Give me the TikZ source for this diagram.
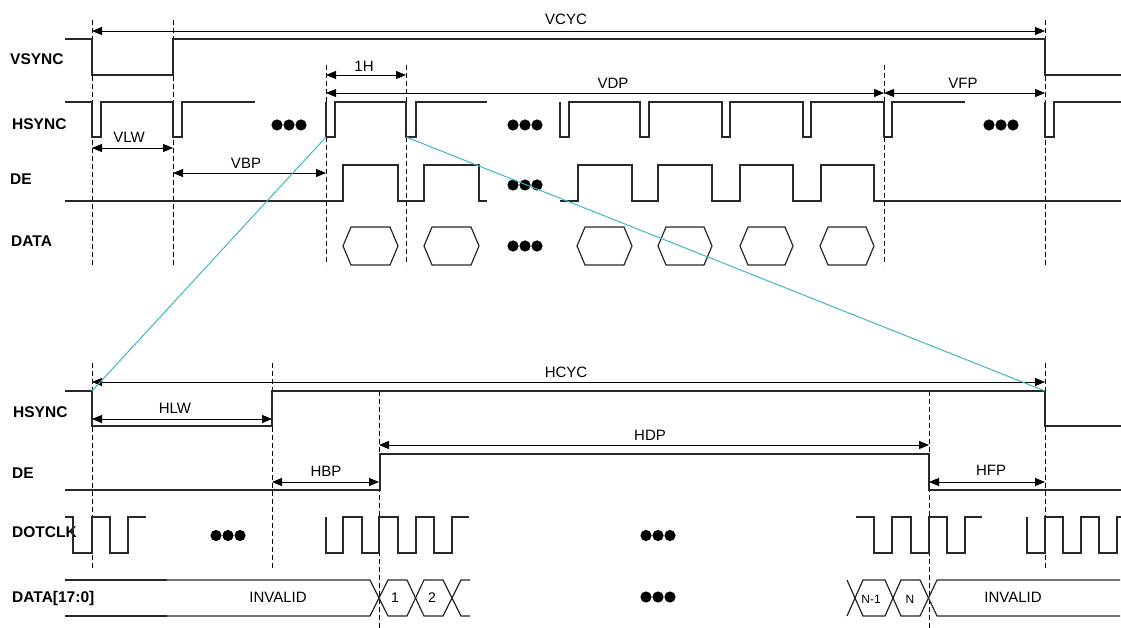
\documentclass[tikz,border=0pt]{standalone}
\usepackage{fontspec}
\setmainfont{Liberation Sans}
\usetikzlibrary{arrows.meta}
\definecolor{cyanl}{RGB}{64,184,190}
\definecolor{wavec}{RGB}{40,40,40}
\begin{document}
\begin{tikzpicture}[x=1pt,y=-1pt,
  wave/.style={line width=1.2pt, wavec, line join=miter},
  thickbus/.style={line width=2pt, wavec},
  guide/.style={line width=0.8pt, black, dash pattern=on 5pt off 3pt},
  dim/.style={line width=0.9pt, black, {Triangle[length=10pt,width=8pt]}-{Triangle[length=10pt,width=8pt]}},
  lbl/.style={font=\fontsize{15}{18}\selectfont, inner sep=0pt, text height=10.7pt, text depth=0pt},
  sig/.style={font=\fontsize{15.5}{18}\selectfont\bfseries, inner sep=0pt, anchor=west, text height=11pt, text depth=0pt},
  cellno/.style={font=\fontsize{14}{16}\selectfont, inner sep=0pt, text height=10pt, text depth=0pt},
  cellsm/.style={font=\fontsize{12}{14}\selectfont, inner sep=0pt, text height=8.6pt, text depth=0pt},
  zoomline/.style={cyanl, line width=1pt},
  tridots/.pic={\fill[black] (-12,0) circle[radius=5.6pt] (0,0) circle[radius=5.6pt] (12,0) circle[radius=5.6pt];}
]
\fill[white] (0,0) rectangle (1121,628);
\useasboundingbox (0,0) rectangle (1121,628);

% ---------------- signal names ----------------
\node[sig] (nvs) at (10,59.5) {VSYNC};
\node[sig] (nhs) at (12,124.5) {HSYNC};
\node[sig] (nde) at (10,179) {DE};
\node[sig] (nda) at (11,241) {DATA};
\node[sig] (nhs2) at (13,412) {HSYNC};
\node[sig] (nde2) at (12,473) {DE};
\node[sig] (nclk) at (12,532) {DOTCLK};
\node[sig] (nda2) at (12,597) {DATA[17:0]};

% ---------------- top: guides ----------------
\draw[guide] (92,20) -- (92,265);
\draw[guide] (173,20) -- (173,265);
\draw[guide] (326,65) -- (326,265);
\draw[guide] (406,65) -- (406,265);
\draw[guide] (884,65) -- (884,265);
\draw[guide] (1045,20) -- (1045,265);

% ---------------- top: waveforms ----------------
\draw[wave] (65,39) -- (92,39) -- (92,75) -- (173,75) -- (173,39) -- (1045,39) -- (1045,75) -- (1121,75);

\draw[wave] (65,102) -- (92,102) -- (92,137) -- (101,137) -- (101,102) -- (173,102) -- (173,137) -- (182,137) -- (182,102) -- (255,102);
\draw[wave] (326,102) -- (326,137) -- (335,137) -- (335,102) -- (406,102) -- (406,137) -- (416,137) -- (416,102) -- (487,102);
\draw[wave] (560,102) -- (560,137) -- (569,137) -- (569,102) -- (640,102) -- (640,137) -- (649,137) -- (649,102)
  -- (722,102) -- (722,137) -- (730,137) -- (730,102) -- (803,102) -- (803,137) -- (811,137) -- (811,102)
  -- (884,102) -- (884,137) -- (892,137) -- (892,102) -- (965,102);
\draw[wave] (1045,102) -- (1045,137) -- (1054,137) -- (1054,102) -- (1121,102);

\draw[wave] (65,201) -- (343,201) -- (343,165) -- (398,165) -- (398,201) -- (424,201) -- (424,165) -- (479,165) -- (479,201) -- (487,201);
\draw[wave] (560,201) -- (578,201) -- (578,165) -- (632,165) -- (632,201) -- (658,201) -- (658,165) -- (712,165) -- (712,201)
  -- (740,201) -- (740,165) -- (793,165) -- (793,201) -- (821,201) -- (821,165) -- (874,165) -- (874,201) -- (1121,201);

\foreach \a/\b in {343/398, 424/479, 577/632, 658/712, 740/793, 820/874}{
  \draw[wave] (\a,246) -- (\a+8,227) -- (\b-8,227) -- (\b,246) -- (\b-8,265) -- (\a+8,265) -- cycle;
}

\pic at (289,125) {tridots};
\pic at (525,125) {tridots};
\pic at (1001,125) {tridots};
\pic at (525,185) {tridots};
\pic at (525,246) {tridots};

% ---------------- top: dimensions ----------------
\draw[dim] (92,31) -- (1045,31);
\node[lbl] (lvcyc) at (566,19.5) {VCYC};
\draw[dim] (326,75) -- (406,75);
\node[lbl] (l1h) at (364,66.5) {1H};
\draw[dim] (326,93) -- (884,93);
\node[lbl] (lvdp) at (613,83) {VDP};
\draw[dim] (884,93) -- (1045,93);
\node[lbl] (lvfp) at (963,83) {VFP};
\draw[dim] (92,148) -- (173,148);
\node[lbl] (lvlw) at (129,137) {VLW};
\draw[dim] (173,173) -- (326,173);
\node[lbl] (lvbp) at (246,163.5) {VBP};

% ---------------- bottom: guides ----------------
\draw[guide] (92,363) -- (92,569);
\draw[guide] (272,363) -- (272,569);
\draw[guide] (379,391) -- (379,628);
\draw[guide] (929,391) -- (929,628);
\draw[guide] (1045,363) -- (1045,569);

% ---------------- bottom: waveforms ----------------
\draw[wave] (65,391) -- (92,391) -- (92,426) -- (272,426) -- (272,391) -- (1045,391) -- (1045,426) -- (1121,426);
\draw[wave] (65,490) -- (380,490) -- (380,454) -- (929,454) -- (929,490) -- (1121,490);

\draw[wave] (65,517) -- (73,517) -- (73,553) -- (92,553) -- (92,517) -- (110,517) -- (110,553) -- (128,553) -- (128,517) -- (146,517);
\draw[wave] (326,517) -- (326,553) -- (343,553) -- (343,517) -- (362,517) -- (362,553) -- (379,553) -- (379,517)
  -- (398,517) -- (398,553) -- (416,553) -- (416,517) -- (434,517) -- (434,553) -- (452,553) -- (452,517) -- (469,517);
\draw[wave] (856,517) -- (874,517) -- (874,553) -- (892,553) -- (892,517) -- (911,517) -- (911,553) -- (929,553) -- (929,517)
  -- (947,517) -- (947,553) -- (965,553) -- (965,517) -- (982,517);
\draw[wave] (1027,517) -- (1027,553) -- (1045,553) -- (1045,517) -- (1063,517) -- (1063,553) -- (1081,553) -- (1081,517)
  -- (1099,517) -- (1099,553) -- (1117,553) -- (1117,517) -- (1121,517);

% data bus
\draw[thickbus] (65,580) -- (167,580) (65,616) -- (167,616);
\draw[wave] (65,580) -- (370,580) -- (388,616) -- (407,616) -- (424,580) -- (443,580) -- (461,616) -- (470,616);
\draw[wave] (65,616) -- (370,616) -- (388,580) -- (407,580) -- (424,616) -- (443,616) -- (461,580) -- (470,580);
\draw[wave] (847,580) -- (863,616) -- (885,616) -- (901,580) -- (920,580) -- (937,616) -- (1120,616);
\draw[wave] (847,616) -- (863,580) -- (885,580) -- (901,616) -- (920,616) -- (937,580) -- (1120,580);
\node[lbl] (linv1) at (278,597) {INVALID};
\node[lbl] (linv2) at (1013,597) {INVALID};
\node[cellno] (c1) at (395,597) {1};
\node[cellno] (c2) at (432,597) {2};
\node[cellsm] (cn1) at (871,599) {N-1};
\node[cellsm] (cn) at (910,599) {N};

\pic at (228,535.5) {tridots};
\pic at (658,535.5) {tridots};
\pic at (658,597) {tridots};

% ---------------- bottom: dimensions ----------------
\draw[dim] (92,382) -- (1045,382);
\node[lbl] (lhcyc) at (566,372) {HCYC};
\draw[dim] (92,419) -- (272,419);
\node[lbl] (lhlw) at (175,408.5) {HLW};
\draw[dim] (379,445) -- (929,445);
\node[lbl] (lhdp) at (650,435) {HDP};
\draw[dim] (272,482) -- (379,482);
\node[lbl] (lhbp) at (326,471) {HBP};
\draw[dim] (929,482) -- (1045,482);
\node[lbl] (lhfp) at (991,470.5) {HFP};

% ---------------- zoom lines ----------------
\coordinate (za) at (326,137);
\coordinate (zb) at (406,137);
\coordinate (zc) at (92,391);
\coordinate (zd) at (1045,391);
\draw[zoomline] (za) -- (zc);
\draw[zoomline] (zb) -- (zd);
\end{tikzpicture}
\end{document}
